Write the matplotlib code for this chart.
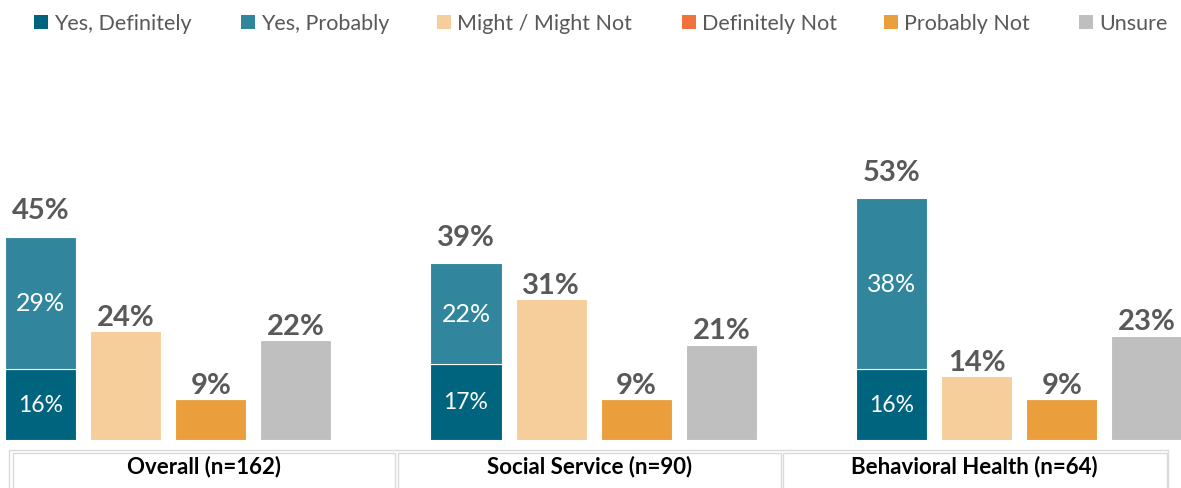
import matplotlib.pyplot as plt
from matplotlib.patches import Rectangle

groups = ['Overall (n=162)', 'Social Service (n=90)', 'Behavioral Health (n=64)']
yes_definitely = [15.7, 16.8, 15.6]
yes_probably = [29.1, 22.1, 37.6]
might_not = [24, 31, 14]
definitely_not = [0, 0, 0]
probably_not = [9, 9, 9]
unsure = [22, 21, 23]

legend_labels = ['Yes, Definitely', 'Yes, Probably', 'Might / Might Not',
                 'Definitely Not', 'Probably Not', 'Unsure']
colors = ['#00647E', '#31859C', '#F6CE9C', '#F2713C', '#EA9E3C', '#BFBFBF']

W, H = 1181, 489
label_grey = '#595959'
plt.rcParams['font.family'] = ['Lato', 'DejaVu Sans']

fig = plt.figure(figsize=(W / 100, H / 100), dpi=100)
ax = fig.add_axes([0, 48 / H, 1, (441 - 60) / H])

width = 0.835
kw = dict(width=width, edgecolor='white', linewidth=0.8)
for g in range(len(groups)):
    x0 = g * 5
    # stacked yes bar
    ax.bar(x0, yes_definitely[g], color=colors[0], **kw)
    ax.bar(x0, yes_probably[g], bottom=yes_definitely[g], color=colors[1], **kw)
    ax.text(x0, yes_definitely[g] / 2, f'{yes_definitely[g]:.0f}%', ha='center', va='center',
            color='white', fontsize=16.5)
    ax.text(x0, yes_definitely[g] + yes_probably[g] / 2, f'{yes_probably[g]:.0f}%',
            ha='center', va='center', color='white', fontsize=18)
    total_yes = yes_definitely[g] + yes_probably[g]
    ax.annotate(f'{total_yes:.0f}%', (x0, total_yes), xytext=(0, 13.5), textcoords='offset points',
                ha='center', va='baseline', color=label_grey, fontsize=21, fontweight='bold')

    ax.bar(x0 + 1, might_not[g], color=colors[2], **kw)
    ax.bar(x0 + 2, probably_not[g], color=colors[4], **kw)
    ax.bar(x0 + 2, definitely_not[g], bottom=probably_not[g], color=colors[3], **kw)
    ax.bar(x0 + 3, unsure[g], color=colors[5], **kw)
    singles = [(x0 + 1, might_not[g]), (x0 + 2, probably_not[g] + definitely_not[g]),
               (x0 + 3, unsure[g])]
    for xx, v in singles:
        ax.annotate(f'{v}%', (xx, v), xytext=(0, 4.5), textcoords='offset points',
                    ha='center', va='baseline', color=label_grey, fontsize=21, fontweight='bold')

ax.set_xlim(-40.5 / 85.1, (W - 40.5) / 85.1)
ax.set_ylim(0, 381 / 4.54)
ax.axis('off')

# legend row
legend_x = [34, 241, 437, 682, 884, 1079]
for lx, lab, c in zip(legend_x, legend_labels, colors):
    fig.add_artist(Rectangle((lx / W, 1 - 30 / H), 14 / W, 14 / H, transform=fig.transFigure,
                             facecolor=c, edgecolor='none'))
    fig.text((lx + 20) / W, 1 - 23.5 / H, lab, ha='left', va='center', color=label_grey,
             fontsize=15.5)

# category table under the bars
def frame(x1, y1, x2, y2):
    fig.add_artist(Rectangle((x1 / W, 1 - y2 / H), (x2 - x1) / W, (y2 - y1) / H,
                             transform=fig.transFigure, facecolor='none',
                             edgecolor='#D9D9D9', linewidth=1))

frame(9.5, 451, 1168, 495)
cells = [(12.5, 395), (397.5, 781), (783, 1166.5)]
for (c1, c2), name in zip(cells, groups):
    frame(c1, 454, c2, 495)
    fig.text((c1 + c2) / 2 / W, 1 - 467 / H, name, ha='center', va='center',
             color='black', fontsize=16, fontweight='bold')

plt.savefig('out.png', dpi=100)
